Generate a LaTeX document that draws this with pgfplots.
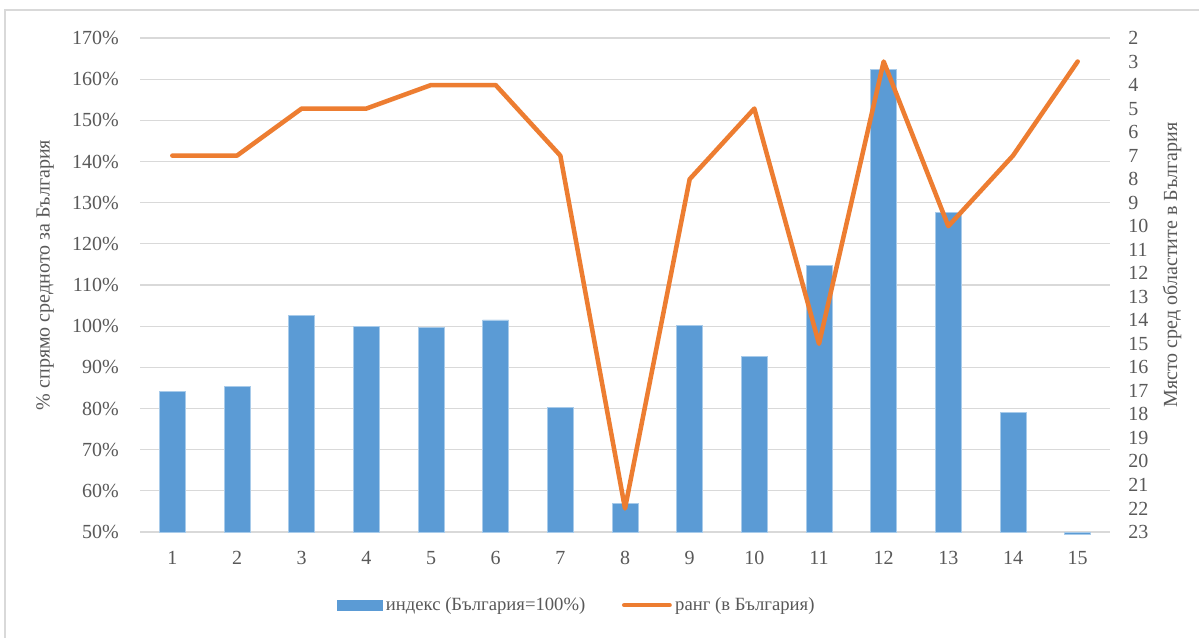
\documentclass[border=0pt]{standalone}
\usepackage{fontspec}
\setmainfont{Liberation Serif}
\usepackage{pgfplots}
\pgfplotsset{compat=1.18}
\usepackage{pgfplotstable}
\definecolor{barblue}{HTML}{5B9BD5}
\definecolor{baredge}{HTML}{A8CBEA}
\definecolor{lineorange}{HTML}{ED7D31}
\definecolor{gridgray}{HTML}{D9D9D9}
\definecolor{txtgray}{HTML}{595959}

\pgfplotstableread{
x idx rank
1 84.1 7
2 85.4 7
3 102.5 5
4 100.0 5
5 99.7 4
6 101.5 4
7 80.3 7
8 57.0 22
9 100.2 8
10 92.6 5
11 114.7 15
12 162.3 3
13 127.6 10
14 79.0 7
15 49.5 3
}\data

\begin{document}
\begin{tikzpicture}[font=\fontsize{15}{18}\selectfont]
\useasboundingbox (0,0) rectangle (899.25pt,477.75pt);
\clip (0,0) rectangle (899.25pt,477.75pt);
\fill[white] (0,0) rectangle (899.25pt,477.75pt);
\draw[gridgray, line width=1pt] (3.75pt,-10pt) -- (3.75pt,470.25pt) -- (910pt,470.25pt);

\begin{axis}[
  at={(105pt,78.75pt)}, anchor=south west,
  width=727.5pt, height=370.5pt, scale only axis,
  xmin=0.5, xmax=15.5, ymin=0, ymax=120,
  clip=false,
  axis line style={draw=none},
  ybar, bar width=19.5pt,
  major tick length=0pt,
  xtick={1,2,...,15},
  xticklabels={1,2,3,4,5,6,7,8,9,10,11,12,13,14,15},
  ytick={0,10,...,120},
  yticklabels={50\%,60\%,70\%,80\%,90\%,100\%,110\%,120\%,130\%,140\%,150\%,160\%,170\%},
  ymajorgrids,
  grid style={gridgray, line width=0.9pt},
  tick label style={text=txtgray, font=\fontsize{15}{18}\selectfont},
  yticklabel style={anchor=east, inner sep=0pt, xshift=-15.75pt},
  xticklabel style={anchor=north, inner sep=0pt, yshift=-14pt},
]
\addplot[fill=barblue, draw=baredge, line width=0.6pt] table[x=x, y expr=\thisrow{idx}-50] {\data};
\end{axis}

\begin{axis}[
  at={(105pt,78.75pt)}, anchor=south west,
  width=727.5pt, height=370.5pt, scale only axis,
  xmin=0.5, xmax=15.5, ymin=2, ymax=23,
  y dir=reverse,
  axis y line*=right,
  axis x line=none,
  axis line style={draw=none},
  major tick length=0pt,
  ytick={2,3,...,23},
  /pgf/number format/assume math mode=true,
  tick label style={text=txtgray, font=\fontsize{15}{18}\selectfont},
  yticklabel style={anchor=west, inner sep=0pt, xshift=13.5pt},
  legend style={at={(0.451,-0.148)}, anchor=center, draw=none, fill=none,
    legend columns=2, text=txtgray, font=\fontsize{14}{17}\selectfont,
    nodes={inner xsep=2.5pt},
    /tikz/every even column/.append style={column sep=25pt}},
]
\addlegendimage{legend image code/.code={\fill[barblue] (0pt,-3.75pt) rectangle (33.75pt,3.75pt);}}
\addlegendentry{индекс (България=100\%)}
\addplot[lineorange, line width=3.4pt, line join=round, line cap=round,
  legend image code/.code={\draw[lineorange, line width=3.4pt, line cap=round] (0pt,0pt) -- (34pt,0pt);}]
  table[x=x, y=rank] {\data};
\addlegendentry{ранг (в България)}
\end{axis}

\node[rotate=90, text=txtgray] at (33.75pt,271.5pt) {\% спрямо средното за България};
\node[rotate=90, text=txtgray] at (879pt,279pt) {Място сред областите в България};
\end{tikzpicture}
\end{document}
